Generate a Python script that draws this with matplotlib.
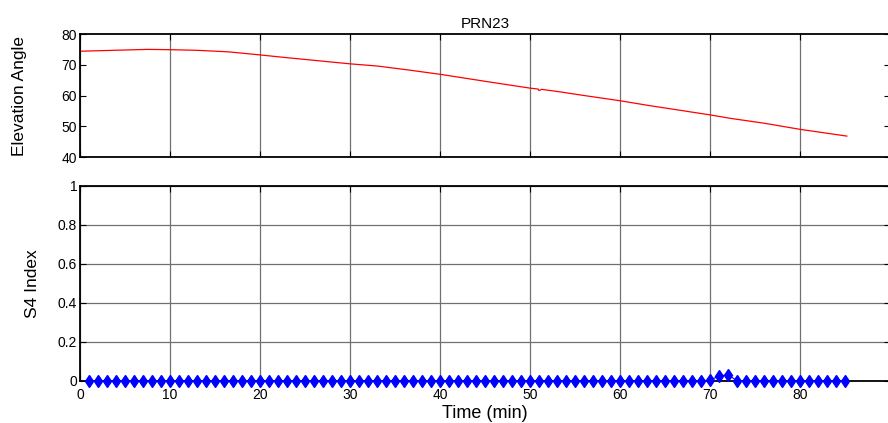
import numpy as np
import matplotlib
matplotlib.use("Agg")
import matplotlib.pyplot as plt

plt.rcParams['font.family'] = ['Liberation Sans', 'DejaVu Sans']

# elevation track of the satellite (minutes, degrees)
elev_time = [0, 2.5, 5, 7.5, 10, 13, 16.5, 20, 23, 26.5, 30, 33, 36.5, 40,
             45.5, 50, 50.9, 51, 51.3, 53.3, 56, 60, 63.3, 66, 70, 72.2, 76,
             80, 85.2]
elev_angle = [74.4, 74.6, 74.8, 75.0, 74.9, 74.7, 74.2, 73.2, 72.3, 71.3,
              70.3, 69.6, 68.3, 66.9, 64.4, 62.4, 62.1, 61.6, 62.0, 61.2,
              60.0, 58.3, 56.7, 55.5, 53.7, 52.6, 51.0, 49.0, 46.8]

# S4 scintillation index, one sample per minute
s4_time = list(range(1, 86))
s4_index = [0.0] * 85
s4_index[69] = 0.005
s4_index[70] = 0.025
s4_index[71] = 0.033

fig = plt.figure(figsize=(8.88, 4.23), dpi=100)
ax1 = fig.add_axes([0.0901, 0.6288, 0.9122, 0.2908])
ax2 = fig.add_axes([0.0901, 0.0993, 0.9122, 0.4610])

tick_fs = 10
xticks = np.arange(0, 90, 10)

# top panel: elevation angle
ax1.plot(elev_time, elev_angle, color='red', lw=0.9)
ax1.set_xlim(0, 90)
ax1.set_ylim(40, 80)
ax1.set_xticks(xticks)
ax1.set_xticklabels([])
ax1.set_yticks([40, 50, 60, 70, 80])
ax1.grid(axis='x', color='#707070', lw=0.9)
ax1.set_ylabel('Elevation Angle', fontsize=12.5, labelpad=25)
ax1.set_title('PRN23', fontsize=11, pad=4)

# bottom panel: S4 index
ax2.plot(s4_time, s4_index, color='blue', lw=0.8, marker='d',
         markersize=6.2, clip_on=False, zorder=5)
ax2.set_xlim(0, 90)
ax2.set_ylim(0, 1)
ax2.set_xticks(xticks)
ax2.set_yticks([0, 0.2, 0.4, 0.6, 0.8, 1])
ax2.set_yticklabels(['0', '0.2', '0.4', '0.6', '0.8', '1'])
ax2.grid(color='#707070', lw=0.9)
ax2.set_ylabel('S4 Index', fontsize=12.5, labelpad=13)
ax2.set_xlabel('Time (min)', fontsize=13, labelpad=2)

for ax in (ax1, ax2):
    ax.set_axisbelow(True)
    ax.tick_params(direction='in', top=True, right=True, length=4,
                   width=0.8, labelsize=tick_fs, pad=2)
    for s in ax.spines.values():
        s.set_linewidth(1.3)
        s.set_color('black')
ax2.tick_params(axis='x', pad=5)

fig.savefig('out.png', dpi=100)
